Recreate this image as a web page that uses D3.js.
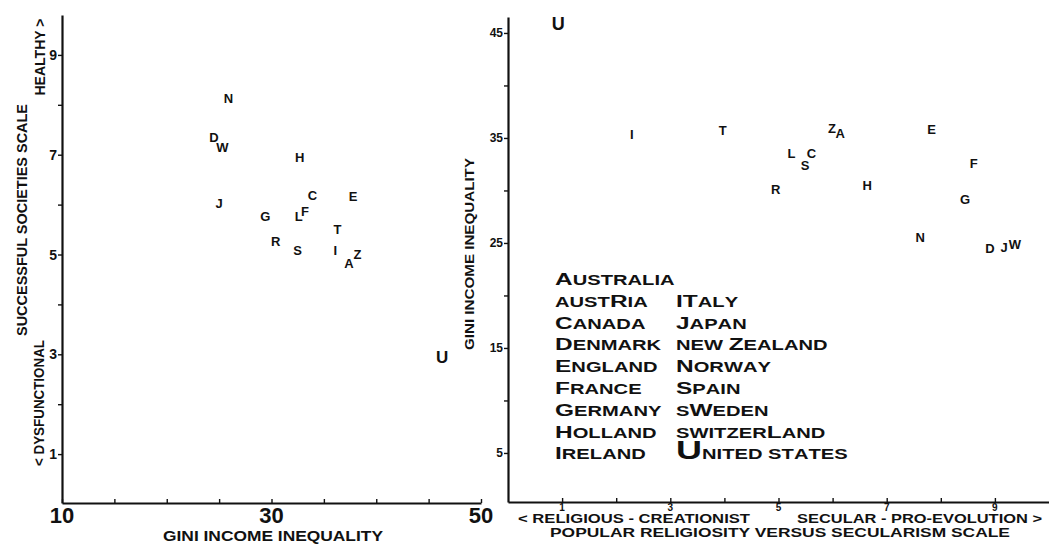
<!DOCTYPE html>
<html><head><meta charset="utf-8">
<script src="https://cdn.jsdelivr.net/npm/d3@7"></script>
<style>body{margin:0;background:#fff}svg{display:block}</style>
</head><body>
<svg id="c" width="1049" height="546"></svg>
<script>
// ---- data ----
const codes        = ["A","R","C","D","E","F","G","H","I","T","J","Z","N","S","W","L","U"];
const giniLeft     = [37.4,30.4,33.9,24.5,37.8,33.2,29.4,32.7,36.1,36.3,25.0,38.2,25.9,32.5,25.3,32.6,46.3];
const successLeft  = [4.82,5.26,6.19,7.35,6.17,5.86,5.77,6.95,5.09,5.50,6.03,5.01,8.13,5.09,7.15,5.76,2.95];
const secularRight = [6.14,4.95,5.61,8.91,7.83,8.61,8.45,6.64,2.29,3.97,9.17,5.99,7.62,5.49,9.37,5.24,0.93];
const giniRight    = [35.4,30.1,33.5,24.5,35.8,32.6,29.2,30.5,35.3,35.7,24.6,35.9,25.5,32.4,24.9,33.5,45.9];
// upper-case letters = large capitals, lower-case = small capitals
const legendLeft   = ["Australia","austRia","Canada","Denmark","England","France","Germany","Holland","Ireland"];
const legendRight  = ["ITaly","Japan","new Zealand","Norway","Spain","sWeden","switzerLand","United states"];
const leftXTicks   = [10,15,20,25,30,35,40,45,50];
const leftXLabels  = [10,30,50];
const leftYTicks   = [1,2,3,4,5,6,7,8,9];
const leftYLabels  = [1,3,5,7,9];
const rightXTicks  = [1,2,3,4,5,6,7,8,9];
const rightXLabels = [1,3,5,7,9];
const rightYTicks  = [5,10,15,20,25,30,35,40,45];
const rightYLabels = [5,15,25,35,45];

const svg = d3.select("#c");
const FONT = "'Liberation Sans', Arial, sans-serif";
svg.append("rect").attr("width",1049).attr("height",546).attr("fill","#fff");

// ---- scales ----
const xL = d3.scaleLinear().domain([10,50]).range([62,481]);
const yL = d3.scaleLinear().domain([0.02,9.8]).range([503,15]);
const xR = d3.scaleLinear().domain([0,10]).range([508,1049]);
const yR = d3.scaleLinear().domain([0.33,46.52]).range([502,17]);

function styleAxis(g){
  g.select(".domain").attr("stroke","#111").attr("stroke-width",2.2);
  g.selectAll(".tick line").attr("stroke","#111").attr("stroke-width",1.4);
  g.selectAll(".tick text").remove();
}

// ---- left panel axes ----
svg.append("g").attr("transform","translate(0,503)")
  .call(d3.axisBottom(xL).tickValues(leftXTicks).tickSize(-4).tickSizeOuter(0)).call(styleAxis);
svg.append("g").attr("transform","translate(62,0)")
  .call(d3.axisLeft(yL).tickValues(leftYTicks).tickSize(4).tickSizeOuter(0)).call(styleAxis);

svg.append("g").selectAll("text").data(leftXLabels).join("text")
  .attr("x",d=>xL(d)).attr("y",523).attr("text-anchor","middle")
  .attr("font-family",FONT).attr("font-weight","bold").attr("font-size",22).attr("fill","#111")
  .text(d=>d);
svg.append("g").selectAll("text").data(leftYLabels).join("text")
  .attr("x",57).attr("y",d=>yL(d)).attr("dy","0.36em").attr("text-anchor","end")
  .attr("font-family",FONT).attr("font-weight","bold").attr("font-size",14).attr("fill","#111")
  .text(d=>d);

svg.append("text").attr("x",273).attr("y",541).attr("text-anchor","middle")
  .attr("font-family",FONT).attr("font-weight","bold").attr("font-size",15).attr("fill","#111")
  .attr("textLength",220).attr("lengthAdjust","spacingAndGlyphs")
  .text("GINI INCOME INEQUALITY");
svg.append("text").attr("transform","translate(22,220) rotate(-90)").attr("dy","0.35em")
  .attr("text-anchor","middle").attr("font-family",FONT).attr("font-weight","bold").attr("font-size",14)
  .attr("textLength",232).attr("lengthAdjust","spacingAndGlyphs").attr("fill","#111")
  .text("SUCCESSFUL SOCIETIES SCALE");
svg.append("text").attr("transform","translate(39,403) rotate(-90)").attr("dy","0.35em")
  .attr("text-anchor","middle").attr("font-family",FONT).attr("font-weight","bold").attr("font-size",14)
  .attr("textLength",126).attr("lengthAdjust","spacingAndGlyphs").attr("fill","#111")
  .text("< DYSFUNCTIONAL");
svg.append("text").attr("transform","translate(40,57) rotate(-90)").attr("dy","0.35em")
  .attr("text-anchor","middle").attr("font-family",FONT).attr("font-weight","bold").attr("font-size",14)
  .attr("textLength",77).attr("lengthAdjust","spacingAndGlyphs").attr("fill","#111")
  .text("HEALTHY >");

// ---- left points ----
svg.append("g").selectAll("text").data(codes).join("text")
  .attr("x",(d,i)=>xL(giniLeft[i])).attr("y",(d,i)=>yL(successLeft[i])).attr("dy","0.36em")
  .attr("text-anchor","middle").attr("font-family",FONT)
  .attr("font-weight","bold").attr("font-size",d=>d==="U"?17:13).attr("fill","#111")
  .text(d=>d);

// ---- right panel axes ----
svg.append("g").attr("transform","translate(0,502)")
  .call(d3.axisBottom(xR).tickValues(rightXTicks).tickSize(-4).tickSizeOuter(0)).call(styleAxis);
svg.append("g").attr("transform","translate(508,0)")
  .call(d3.axisLeft(yR).tickValues(rightYTicks).tickSize(4).tickSizeOuter(0)).call(styleAxis);

svg.append("g").selectAll("text").data(rightXLabels).join("text")
  .attr("x",d=>xR(d)).attr("y",511).attr("text-anchor","middle")
  .attr("font-family",FONT).attr("font-weight","bold").attr("font-size",10).attr("fill","#111")
  .text(d=>d);
svg.append("g").selectAll("text").data(rightYLabels).join("text")
  .attr("x",503).attr("y",d=>yR(d)).attr("dy","0.36em").attr("text-anchor","end")
  .attr("font-family",FONT).attr("font-weight","bold").attr("font-size",12).attr("fill","#111")
  .text(d=>d);

svg.append("text").attr("x",518).attr("y",523)
  .attr("font-family",FONT).attr("font-weight","bold").attr("font-size",12.5).attr("fill","#111")
  .attr("textLength",232).attr("lengthAdjust","spacingAndGlyphs")
  .text("< RELIGIOUS - CREATIONIST");
svg.append("text").attr("x",797).attr("y",523)
  .attr("font-family",FONT).attr("font-weight","bold").attr("font-size",12.5).attr("fill","#111")
  .attr("textLength",245).attr("lengthAdjust","spacingAndGlyphs")
  .text("SECULAR - PRO-EVOLUTION >");
svg.append("text").attr("x",550).attr("y",537)
  .attr("font-family",FONT).attr("font-weight","bold").attr("font-size",13).attr("fill","#111")
  .attr("textLength",460).attr("lengthAdjust","spacingAndGlyphs")
  .text("POPULAR RELIGIOSITY VERSUS SECULARISM SCALE");
svg.append("text").attr("transform","translate(470,254) rotate(-90)").attr("dy","0.35em")
  .attr("text-anchor","middle").attr("font-family",FONT).attr("font-weight","bold").attr("font-size",12)
  .attr("textLength",192).attr("lengthAdjust","spacingAndGlyphs").attr("fill","#111")
  .text("GINI INCOME INEQUALITY");

// ---- right points ----
svg.append("g").selectAll("text").data(codes).join("text")
  .attr("x",(d,i)=>xR(secularRight[i])).attr("y",(d,i)=>yR(giniRight[i])).attr("dy","0.36em")
  .attr("text-anchor","middle").attr("font-family",FONT)
  .attr("font-weight","bold").attr("font-size",d=>d==="U"?18:13).attr("fill","#111")
  .text(d=>d);

// ---- legend ----
function legendEntry(g, name){
  const t = g.append("text").attr("font-family",FONT).attr("font-weight","bold").attr("fill","#111");
  for (const ch of name){
    const big = ch !== " " && ch === ch.toUpperCase();
    t.append("tspan").attr("font-size", big ? (ch==="U" && name.startsWith("United") ? 25 : 17) : 14)
      .text(ch.toUpperCase());
  }
}
const rowY = i => 285 + 21.8*i;
legendLeft.forEach((n,i)=>{
  const g = svg.append("g").attr("transform",`translate(555,${rowY(i)}) scale(1.44,1)`);
  legendEntry(g,n);
});
legendRight.forEach((n,i)=>{
  const g = svg.append("g").attr("transform",`translate(676,${rowY(i+1)}) scale(1.44,1)`);
  legendEntry(g,n);
});
</script>
</body></html>
